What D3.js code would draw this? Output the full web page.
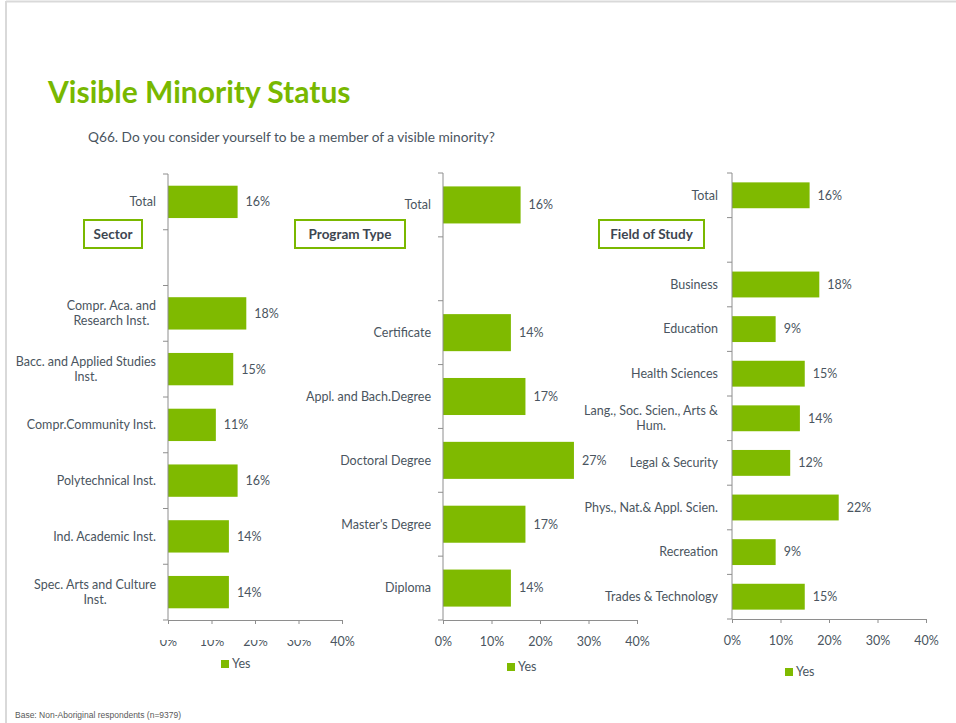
<!DOCTYPE html>
<html>
<head>
<meta charset="utf-8">
<script src="https://cdn.jsdelivr.net/npm/d3@7"></script>
<style>
  body { margin: 0; background: #fff; }
  svg { display: block; }
  text { font-family: Lato, "Open Sans", sans-serif; }
</style>
</head>
<body>
<svg width="956" height="723"></svg>
<script>
// chart data
var sectorCats = ["Total", "", "Compr. Aca. and\nResearch Inst.", "Bacc. and Applied Studies\nInst.",
  "Compr.Community Inst.", "Polytechnical Inst.", "Ind. Academic Inst.", "Spec. Arts and Culture\nInst."];
var sectorValues = [16, null, 18, 15, 11, 16, 14, 14];

var programCats = ["Total", "", "Certificate", "Appl. and Bach.Degree", "Doctoral Degree",
  "Master's Degree", "Diploma"];
var programValues = [16, null, 14, 17, 27, 17, 14];

var fieldCats = ["Total", "", "Business", "Education", "Health Sciences", "Lang., Soc. Scien., Arts &\nHum.",
  "Legal & Security", "Phys., Nat.& Appl. Scien.", "Recreation", "Trades & Technology"];
var fieldValues = [16, null, 18, 9, 15, 14, 12, 22, 9, 15];

var xTicks = [0, 10, 20, 30, 40];
var seriesName = "Yes";

var green = "#7fba00";
var textCol = "#4a5560";
var axisCol = "#8e8e8e";
var fs = 12.5;

var svg = d3.select("svg");

// slide frame
svg.append("line").attr("x1", 6).attr("x2", 956).attr("y1", 1.5).attr("y2", 1.5)
  .attr("stroke", "#d9d9d9").attr("stroke-width", 2);
svg.append("line").attr("x1", 6).attr("x2", 6).attr("y1", 1).attr("y2", 723)
  .attr("stroke", "#d9d9d9").attr("stroke-width", 2);

svg.append("text").attr("x", 48).attr("y", 103)
  .attr("fill", "#78b800").attr("font-weight", "bold").attr("font-size", 30)
  .text("Visible Minority Status");

svg.append("text").attr("x", 88).attr("y", 142)
  .attr("fill", textCol).attr("font-size", 13.7)
  .text("Q66. Do you consider yourself to be a member of a visible minority?");

svg.append("text").attr("x", 15).attr("y", 718)
  .attr("fill", "#595959").attr("font-size", 8.5)
  .style("font-family", "'Liberation Sans', Arial, sans-serif")
  .text("Base: Non-Aboriginal respondents (n=9379)");

var charts = [
  { cats: sectorCats, values: sectorValues, x0: 168, w: 174, top: 174, bottom: 620, labelEnd: 156,
    box: { x: 84, y: 220, w: 58, h: 28, text: "Sector" }, legendX: 221, legendY: 664, clipTicks: true },
  { cats: programCats, values: programValues, x0: 443, w: 194, top: 173, bottom: 620, labelEnd: 431,
    box: { x: 295, y: 220, w: 110, h: 28, text: "Program Type" }, legendX: 507, legendY: 667 },
  { cats: fieldCats, values: fieldValues, x0: 732, w: 194, top: 173, bottom: 619, labelEnd: 718,
    box: { x: 599, y: 220, w: 105, h: 28, text: "Field of Study" }, legendX: 785, legendY: 672 }
];

charts.forEach(function(c) {
  var g = svg.append("g");

  var x = d3.scaleLinear().domain([0, 40]).range([c.x0, c.x0 + c.w]);
  var y = d3.scaleBand().domain(c.cats).range([c.top, c.bottom])
    .paddingInner(0.42).paddingOuter(0.21);
  var step = y.step();

  var rows = c.cats.map(function(d, i) { return { cat: d, v: c.values[i] }; });

  // bars
  g.selectAll(".bar")
    .data(rows.filter(function(d) { return d.v != null; }))
    .enter().append("rect")
      .attr("x", x(0))
      .attr("y", function(d) { return y(d.cat); })
      .attr("width", function(d) { return x(d.v) - x(0); })
      .attr("height", y.bandwidth())
      .attr("fill", green);

  // value labels
  g.selectAll(".val")
    .data(rows.filter(function(d) { return d.v != null; }))
    .enter().append("text")
      .attr("x", function(d) { return x(d.v) + 8; })
      .attr("y", function(d) { return y(d.cat) + y.bandwidth() / 2; })
      .attr("dy", "0.35em")
      .attr("fill", textCol).attr("font-size", fs)
      .text(function(d) { return d.v + "%"; });

  // category labels, wrapped lines centred in a right aligned block
  rows.forEach(function(d) {
    if (!d.cat) return;
    var lines = d.cat.split("\n");
    var t = g.append("text").attr("fill", textCol).attr("font-size", fs);
    var cy = y(d.cat) + y.bandwidth() / 2;
    var lh = 15;
    lines.forEach(function(l, i) {
      t.append("tspan").attr("y", cy + (i - (lines.length - 1) / 2) * lh).attr("dy", "0.35em").text(l);
    });
    var widths = [];
    t.selectAll("tspan").each(function() { widths.push(this.getComputedTextLength()); });
    var mw = d3.max(widths);
    t.attr("text-anchor", "middle");
    t.selectAll("tspan").attr("x", c.labelEnd - mw / 2);
  });

  // y axis line with ticks at band boundaries
  g.append("line").attr("x1", x(0)).attr("x2", x(0)).attr("y1", c.top).attr("y2", c.bottom)
    .attr("stroke", axisCol);
  g.selectAll(".ytick")
    .data(d3.range(c.cats.length + 1))
    .enter().append("line")
      .attr("x1", x(0) - 5).attr("x2", x(0))
      .attr("y1", function(i) { return c.top + i * step; })
      .attr("y2", function(i) { return c.top + i * step; })
      .attr("stroke", axisCol);

  // x axis
  var ax = g.append("g").attr("transform", "translate(0," + c.bottom + ")")
    .call(d3.axisBottom(x).tickValues(xTicks).tickSize(4).tickPadding(13)
      .tickFormat(function(d) { return d + "%"; }));
  ax.select(".domain").attr("stroke", axisCol);
  ax.selectAll(".tick line").attr("stroke", axisCol);
  ax.selectAll(".tick text").attr("fill", textCol).attr("font-size", fs)
    .style("font-family", "Lato, sans-serif");

  // the slide crops the top of the first chart's tick labels
  if (c.clipTicks) {
    g.append("rect").attr("x", x(0) - 15).attr("y", c.bottom + 6).attr("width", x(30) - x(0) + 30).attr("height", 14)
      .attr("fill", "#fff");
  }

  // legend
  g.append("rect").attr("x", c.legendX).attr("y", c.legendY - 4).attr("width", 8).attr("height", 8).attr("fill", green);
  g.append("text").attr("x", c.legendX + 11).attr("y", c.legendY).attr("dy", "0.35em")
    .attr("fill", textCol).attr("font-size", fs).text(seriesName);

  // group box
  g.append("rect").attr("x", c.box.x).attr("y", c.box.y).attr("width", c.box.w).attr("height", c.box.h)
    .attr("fill", "#fff").attr("stroke", "#7ab800").attr("stroke-width", 2);
  g.append("text").attr("x", c.box.x + c.box.w / 2).attr("y", c.box.y + c.box.h / 2).attr("dy", "0.35em")
    .attr("text-anchor", "middle").attr("fill", "#3d4651").attr("font-weight", "bold").attr("font-size", 13.5)
    .text(c.box.text);
});
</script>
</body>
</html>
